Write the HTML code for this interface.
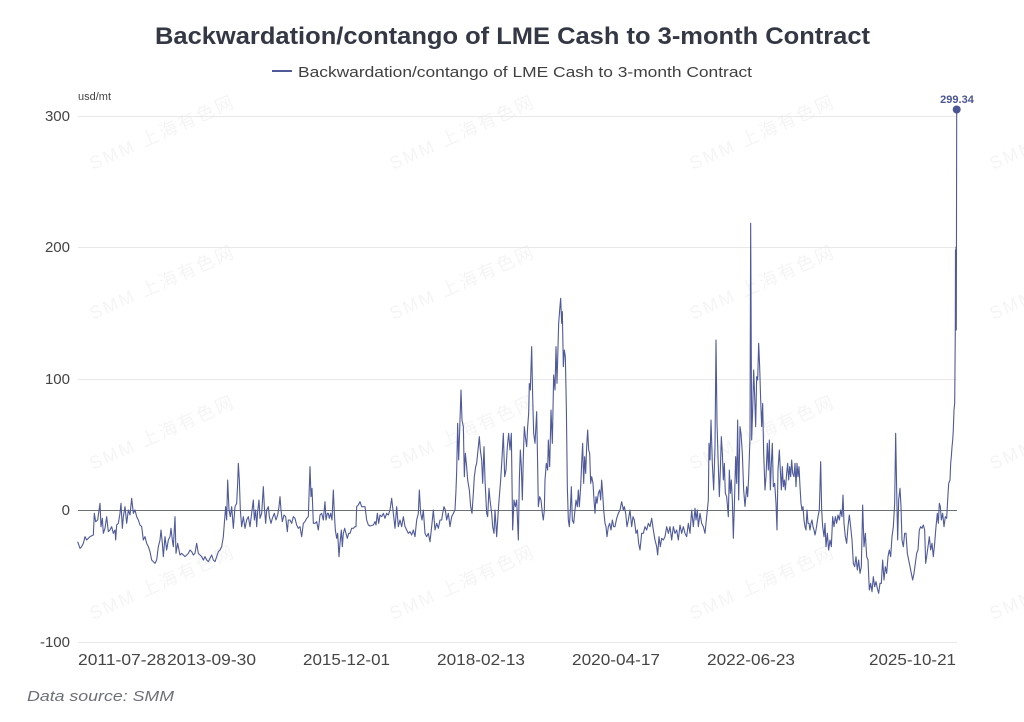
<!DOCTYPE html>
<html>
<head>
<meta charset="utf-8">
<style>
html,body{margin:0;padding:0;background:#fff;}
svg{display:block;}
text{font-family:"Liberation Sans","Noto Sans CJK SC",sans-serif;}
</style>
</head>
<body>
<svg width="1024" height="722" viewBox="0 0 1024 722" xmlns="http://www.w3.org/2000/svg">
<rect width="1024" height="722" fill="#fff"/>

<!-- watermarks -->
<g fill="#000" fill-opacity="0.045" font-size="18">
  <text x="93" y="170" transform="rotate(-24 93 170)" textLength="155">SMM 上海有色网</text>
  <text x="393" y="170" transform="rotate(-24 393 170)" textLength="155">SMM 上海有色网</text>
  <text x="693" y="170" transform="rotate(-24 693 170)" textLength="155">SMM 上海有色网</text>
  <text x="993" y="170" transform="rotate(-24 993 170)" textLength="155">SMM 上海有色网</text>
  <text x="93" y="320" transform="rotate(-24 93 320)" textLength="155">SMM 上海有色网</text>
  <text x="393" y="320" transform="rotate(-24 393 320)" textLength="155">SMM 上海有色网</text>
  <text x="693" y="320" transform="rotate(-24 693 320)" textLength="155">SMM 上海有色网</text>
  <text x="993" y="320" transform="rotate(-24 993 320)" textLength="155">SMM 上海有色网</text>
  <text x="93" y="470" transform="rotate(-24 93 470)" textLength="155">SMM 上海有色网</text>
  <text x="393" y="470" transform="rotate(-24 393 470)" textLength="155">SMM 上海有色网</text>
  <text x="693" y="470" transform="rotate(-24 693 470)" textLength="155">SMM 上海有色网</text>
  <text x="993" y="470" transform="rotate(-24 993 470)" textLength="155">SMM 上海有色网</text>
  <text x="93" y="620" transform="rotate(-24 93 620)" textLength="155">SMM 上海有色网</text>
  <text x="393" y="620" transform="rotate(-24 393 620)" textLength="155">SMM 上海有色网</text>
  <text x="693" y="620" transform="rotate(-24 693 620)" textLength="155">SMM 上海有色网</text>
  <text x="993" y="620" transform="rotate(-24 993 620)" textLength="155">SMM 上海有色网</text>
</g>

<!-- title -->
<text x="155" y="44" font-size="24" font-weight="bold" fill="#333844" textLength="715" lengthAdjust="spacingAndGlyphs">Backwardation/contango of LME Cash to 3-month Contract</text>

<!-- legend -->
<line x1="272" y1="71" x2="292" y2="71" stroke="#4e5a9a" stroke-width="2"/>
<text x="298" y="77" font-size="15" fill="#404040" textLength="454" lengthAdjust="spacingAndGlyphs">Backwardation/contango of LME Cash to 3-month Contract</text>

<!-- unit -->
<text x="78" y="100" font-size="11" fill="#444">usd/mt</text>

<!-- grid -->
<g stroke="#e8e8e8" stroke-width="1">
  <line x1="78" y1="116.5" x2="957" y2="116.5"/>
  <line x1="78" y1="247.5" x2="957" y2="247.5"/>
  <line x1="78" y1="379.5" x2="957" y2="379.5"/>
  <line x1="78" y1="642.5" x2="957" y2="642.5"/>
</g>
<line x1="78" y1="510.5" x2="957" y2="510.5" stroke="#6e7079" stroke-width="1"/>

<!-- y labels -->
<g font-size="15" fill="#444" text-anchor="end">
  <text x="70" y="121">300</text>
  <text x="70" y="252">200</text>
  <text x="70" y="384">100</text>
  <text x="70" y="515">0</text>
  <text x="70" y="647">-100</text>
</g>

<!-- x labels -->
<g font-size="16" fill="#444">
  <text x="78" y="665" textLength="88" lengthAdjust="spacingAndGlyphs">2011-07-28</text>
  <text x="167" y="665" textLength="89" lengthAdjust="spacingAndGlyphs">2013-09-30</text>
  <text x="303" y="665" textLength="87" lengthAdjust="spacingAndGlyphs">2015-12-01</text>
  <text x="437" y="665" textLength="88" lengthAdjust="spacingAndGlyphs">2018-02-13</text>
  <text x="572" y="665" textLength="88" lengthAdjust="spacingAndGlyphs">2020-04-17</text>
  <text x="707" y="665" textLength="88" lengthAdjust="spacingAndGlyphs">2022-06-23</text>
  <text x="869" y="665" textLength="87" lengthAdjust="spacingAndGlyphs">2025-10-21</text>
</g>

<!-- data source -->
<text x="27" y="701" font-size="15" font-style="italic" fill="#6e7079" textLength="147" lengthAdjust="spacingAndGlyphs">Data source:  SMM</text>

<!-- series -->
<g fill="none" stroke="#4e5a9a" stroke-width="1.1" stroke-linejoin="round">
<g transform="translate(75,400) scale(0.333333)">
<polyline vector-effect="non-scaling-stroke" points="8,425 15,445 20,440 25,430 30,410 35,420 45,410 55,405 58,340 62,365 68,360 75,310 78,380 82,355 85,400 90,385 95,350 100,395 105,390 110,380 115,400 120,390 122,420 125,375 130,370 135,340 138,310 142,385 145,350 150,320 155,370 160,330 165,345 170,295 175,340 180,330 185,350 190,360 195,375 200,380 205,420 210,410 215,430 220,440 225,455 230,480 235,485 240,490 245,480 250,440 255,420 258,390 262,430 265,470 270,410 275,450 280,420 285,410 288,385 292,420 295,440 300,350 303,460 308,430 315,465 320,460 330,470 340,460 345,450 350,455 355,465 360,460 365,430 370,460 375,465 380,470 385,480 390,470 395,480 400,485 405,475 410,465 415,480 420,485 425,470 430,455 435,450 440,440 445,410 448,370 452,320 455,360 458,240 462,330 466,350 470,320 475,385 480,320 485,310 488,250 490,190 493,240 496,330 500,380 505,350 510,385 515,360 520,350 525,380 530,340 535,300 538,360 542,330 545,380 548,335 552,300 555,355 560,340 565,260 568,320 572,370 575,330 580,320 583,350 588,370 592,355 598,340 603,360 608,345 612,320 615,290 618,330 622,365 627,345 632,350 637,395 640,360 645,360 650,370 655,350 660,355 665,375 670,385 675,380 680,410 685,370 690,365"/>
</g>
<g transform="translate(300,280) scale(0.333333)">
<polyline vector-effect="non-scaling-stroke" points="15,725 20,715 25,710 30,560 33,650 36,625 40,730 45,730 50,725 55,750 60,705 65,700 70,720 75,665 78,720 82,700 85,700 88,715 92,700 96,720 100,630 103,700 106,750 110,775 113,760 117,830 120,790 124,750 127,800 130,760 134,745 138,760 142,775 146,760 150,760 155,745 160,745 165,740 168,740 170,680 175,675 180,665 185,680 195,680 200,720 205,735 210,738 220,735 225,725 228,735 232,700 236,730 240,705 245,710 250,700 255,715 260,700 265,705 270,690 275,655 280,700 285,745 290,680 295,740 300,720 305,740 310,710 315,740 320,750 325,760 330,755 335,765 340,750 345,770 350,720 355,700 358,630 362,700 366,720 370,690 375,760 380,770 385,760 390,785 395,740 400,690 405,750 410,730 415,745 420,720 425,720 428,700 432,680 436,690 440,720 445,700 450,740 455,710 460,700 465,690 468,630 470,575 473,430 476,540 480,420 483,330 486,420 490,440 493,590 496,520 500,560 503,600 508,630 512,680 516,700 520,640 523,590 527,560 530,550 535,500 538,470 541,510 545,540 548,610 552,500 555,600 560,700 563,710 567,625 570,660 575,700 578,740 582,760 585,690 590,770 595,690 598,650 602,600 606,535 610,460 614,590 618,570 622,500 626,460 630,510 634,460 638,750 642,660 646,680 650,660 655,780 658,600 661,510 664,560 667,660 670,530 673,440 676,470 680,500 683,440 686,400 688,310"/>
</g>
<g transform="translate(525,280) scale(0.333333)">
<polyline vector-effect="non-scaling-stroke" points="13,310 16,330 20,200 23,350 26,460 30,490 35,395 38,560 40,680 44,650 48,660 52,700 55,720 58,690 60,600 64,550 68,570 70,480 74,560 78,390 82,490 86,285 90,330 93,200 96,310 99,200 101,130 104,90 107,55 110,130 112,95 115,260 118,210 121,230 124,380 127,620 130,720 133,740 136,690 139,620 142,720 146,730 150,690 153,660 157,680 160,630 163,680 167,620 170,550 173,490 176,610 179,530 182,580 185,500 188,450 191,510 194,520 197,610 200,590 204,610 207,660 210,700 213,650 216,670 220,640 224,630 227,660 230,600 233,640 236,690 240,730 243,740 246,770 250,740 254,730 258,750 262,720 266,740 270,740 275,715 280,700 285,690 290,665 295,690 298,680 302,700 306,740 310,720 315,690 320,740 324,710 328,720 333,760 337,750 341,790 345,810 350,760 355,760 360,740 365,750 370,730 375,740 380,715 385,750 390,780 395,800 398,825 402,770 406,800 410,775 415,780 420,770 425,740 430,760 435,740 440,780 445,740 450,760 455,750 460,780 465,735 470,760 475,740 480,760 485,770 490,730 495,760 500,690 505,740 510,685 513,720 517,690 520,740 525,700 530,730 535,740 540,760 545,710 550,660 552,490 555,540 558,420 562,550 566,630 570,500 573,180 576,430 580,560 583,650 586,570 589,470 592,520 595,600 598,550 601,640 605,650 610,710 613,570 616,640 619,600 622,660 625,775 628,680 632,530 635,610 638,420 641,660 645,440 648,460 652,520 656,630 660,680"/>
</g>
<g transform="translate(690,210) scale(0.333333)">
<polyline vector-effect="non-scaling-stroke" points="165,890 170,830 173,860 176,800 180,680 182,40 185,690 188,600 191,480 194,560 197,650 200,500 203,510 206,400 209,470 212,570 215,650 218,580 221,730 225,840 228,800 232,700 235,780 238,690 241,840 244,760 247,700 250,830 254,820 258,880 261,960 264,780 268,720 271,780 274,840 277,770 280,830 283,810 286,840 290,790 293,760 296,810 299,770 302,800 305,750 308,790 312,800 315,760 318,830 321,760 324,800 327,770 330,830 333,880 336,900 339,890 342,930 345,950 348,960 351,900 354,940 357,940 360,960 363,940 366,930 369,950 372,960 375,975 378,960 381,940 384,920 388,900"/>
</g>
<g transform="translate(800,400) scale(0.333333)">
<polyline vector-effect="non-scaling-stroke" points="58,330 62,185 65,330 68,380 72,410 75,370 78,440 82,400 86,450 90,420 94,440 98,350 102,380 106,350 110,370 114,345 118,360 122,330 126,350 129,285 132,370 136,410 140,430 144,380 148,345 152,380 156,420 160,490 164,500 168,470 172,510 176,480 180,520 184,500 188,315 192,440 196,400 200,470 204,480 208,570 212,550 216,575 220,530 224,560 228,545 232,565 236,580 240,550 244,550 248,480 252,540 256,500 260,520 264,470 268,450 272,470 276,410 280,380 284,310 287,100 290,270 293,420 296,300 300,265 303,320 306,420 310,440 314,400 318,400 322,460 326,480 330,500 334,520 338,540 342,520 346,490 350,460 354,450 358,390 362,380 366,385 370,375 374,390 377,490 380,470 384,440 388,410 392,450 396,430 400,470 404,430 408,380 412,340 415,370 418,310 421,320 424,360 428,340 432,380 436,350 440,355 443,300 446,250"/>
</g>
<polyline points="948.7,483.3 950,480 950.7,463 951.3,457 952,447 952.7,440 953.3,430 954,410 954.7,403 955.3,330 955.5,250 955.8,320 956,247 956.3,330 956.7,110"/>
</g>

<!-- end marker -->
<circle cx="956.7" cy="109.5" r="4" fill="#4a5595"/>
<text x="957" y="103" font-size="11" font-weight="bold" fill="#4a5595" text-anchor="middle">299.34</text>
</svg>
</body>
</html>
